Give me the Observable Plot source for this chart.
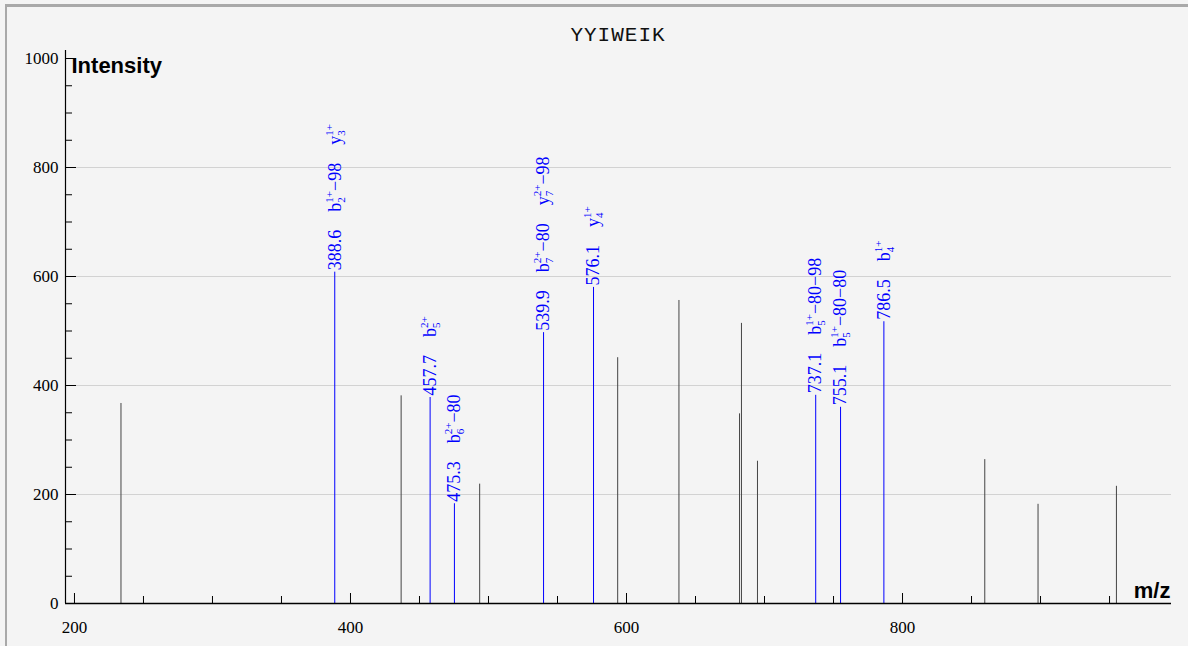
<!DOCTYPE html>
<html>
<head>
<meta charset="utf-8">
<script src="https://cdn.jsdelivr.net/npm/d3@7"></script>
<script src="https://cdn.jsdelivr.net/npm/@observablehq/plot@0.6"></script>
<style>
html,body{margin:0;padding:0;background:#f4f4f4;overflow:hidden;}
#page{position:relative;width:1188px;height:646px;background:#f4f4f4;overflow:hidden;}
#frame{position:absolute;left:5px;top:4px;width:1300px;height:800px;border-left:2px solid #a9a9a9;border-top:3px solid #a9a9a9;pointer-events:none;}
#title{position:absolute;left:65px;width:1106px;top:24px;height:24px;line-height:24px;text-align:center;font-family:"Liberation Mono",monospace;font-size:21px;letter-spacing:1px;color:#111;}
#chart{position:absolute;left:0;top:50px;}
</style>
</head>
<body>
<div id="page">
  <div id="frame"></div>
  <div id="title"></div>
  <div id="chart"></div>
</div>
<script>
// ---- data ----
const peptide = "YYIWEIK";

// unannotated peaks (gray)
const peakMz = [233.7, 436.7, 493.6, 593.6, 638.0, 681.9, 683.3, 694.9, 859.6, 898.2, 955.0];
const peakIntensity = [367, 381, 219, 451, 556, 348, 514, 261, 264, 182, 215];

// annotated peaks (blue)
const ionMz = [388.6, 457.7, 475.3, 539.9, 576.1, 737.1, 755.1, 786.5];
const ionIntensity = [608, 378, 183, 497, 580, 382, 360, 517];
const ionNames   = [["b","y"], ["b"], ["b"], ["b","y"], ["y"], ["b"], ["b"], ["b"]];
const ionSubs    = [["2","3"], ["5"], ["6"], ["7","7"], ["4"], ["5"], ["5"], ["4"]];
const ionCharges = [["1+","1+"], ["2+"], ["2+"], ["2+","2+"], ["1+"], ["1+"], ["1+"], ["1+"]];
const ionLosses  = [["−98",""], [""], ["−80"], ["−80","−98"], [""], ["−80−98"], ["−80−80"], [""]];

// axes
const xDomain = [193.5, 994.9];
const yDomain = [0, 1014.7];
const xMajor = [200, 400, 600, 800];
const xMinor = [250, 300, 350, 450, 500, 550, 650, 700, 750, 850, 900, 950];
const yMajor = [0, 200, 400, 600, 800, 1000];
const yMinor = [50, 100, 150, 250, 300, 350, 450, 500, 550, 650, 700, 750, 850, 900, 950];
const yGrid = [200, 400, 600, 800];
const yLabel = "Intensity";
const xLabel = "m/z";

// ---- tables ----
const peaks = peakMz.map((mz, i) => ({mz, intensity: peakIntensity[i]}));
const ions = ionMz.map((mz, i) => ({mz, intensity: ionIntensity[i]}));

document.getElementById("title").textContent = peptide;

const labelFont = "Liberation Serif";
const labelSize = 18;
const smallSize = 11;
const ionColor = "#0000ff";

const chart = Plot.plot({
  width: 1188,
  height: 596,
  marginLeft: 65,
  marginRight: 17,
  marginTop: 0,
  marginBottom: 43,
  style: {background: "transparent", fontFamily: "Liberation Serif", fontSize: "17px", color: "#000", overflow: "visible"},
  x: {domain: xDomain, label: null},
  y: {domain: yDomain, label: null},
  marks: [
    Plot.gridY(yGrid, {stroke: "#d2d2d2", strokeOpacity: 1}),
    Plot.ruleX(peaks, {x: "mz", y1: 0, y2: "intensity", stroke: "#444", strokeWidth: 1}),
    Plot.ruleX(ions, {x: "mz", y1: 0, y2: "intensity", stroke: ionColor, strokeWidth: 1}),
    Plot.text(ions, {
      x: "mz", y: "intensity", text: d => d.mz.toFixed(1),
      rotate: -90, textAnchor: "start", lineAnchor: "middle", dy: -2,
      fill: ionColor, fontSize: labelSize, fontFamily: labelFont
    }),
    // axis lines
    Plot.ruleY([0], {stroke: "#000", strokeWidth: 1.5}),
    Plot.ruleX([xDomain[0]], {stroke: "#000", strokeWidth: 1.2}),
    // x ticks (inward)
    Plot.axisX(xMajor, {tickSize: 10, dy: -10, tickFormat: () => "", label: null}),
    Plot.axisX(xMinor, {tickSize: 7, dy: -7, tickFormat: () => "", label: null}),
    Plot.axisX(xMajor, {tickSize: 0, tickPadding: 17, fontSize: 17, tickFormat: d => String(d), label: null}),
    // y ticks (inward)
    Plot.axisY(yMajor, {tickSize: 11, dx: 11, tickFormat: () => "", label: null}),
    Plot.axisY(yMinor, {tickSize: 7, dx: 7, tickFormat: () => "", label: null}),
    Plot.axisY(yMajor, {tickSize: 0, tickPadding: 7, fontSize: 17, tickFormat: d => String(d), label: null}),
    // axis titles
    Plot.text([yLabel], {frameAnchor: "top-left", dx: 6, dy: 7, textAnchor: "start", lineAnchor: "top",
      fontSize: 22, fontWeight: "bold", fontFamily: "Liberation Sans", fill: "#000"}),
    Plot.text([xLabel], {frameAnchor: "bottom-right", dx: -1, dy: -6, textAnchor: "end", lineAnchor: "bottom",
      fontSize: 22, fontWeight: "bold", fontFamily: "Liberation Sans", fill: "#000"})
  ]
});
document.getElementById("chart").appendChild(chart);

// remove empty tick-label texts used only for tick-only axes
chart.querySelectorAll("text").forEach(el => { if (el.textContent === "") el.remove(); });

// ---- ion annotations with stacked charge (superscript) / index (subscript) ----
const ctx = document.createElement("canvas").getContext("2d");
ctx.font = `${smallSize}px "${labelFont}"`;
const w = s => ctx.measureText(s).width;
const NS = "http://www.w3.org/2000/svg";
const gap = 18, supShift = 8, subShift = 4;
const mzStrings = ionMz.map(v => v.toFixed(1));
const labelTexts = Array.from(chart.querySelectorAll("text")).filter(el => {
  const g = el.closest("g[fill]");
  return g && g.getAttribute("fill") === ionColor && mzStrings.includes(el.textContent);
});
labelTexts.forEach(el => {
  const i = mzStrings.indexOf(el.textContent);
  const add = (str, attrs) => {
    const t = document.createElementNS(NS, "tspan");
    t.textContent = str;
    for (const k in attrs) t.setAttribute(k, attrs[k]);
    el.appendChild(t);
  };
  let pendingDy = 0;
  ionNames[i].forEach((name, j) => {
    const sup = ionCharges[i][j], sub = ionSubs[i][j], loss = ionLosses[i][j];
    const supW = w(sup), subW = w(sub);
    add(name, {dx: gap, dy: pendingDy});
    add(sup, {dy: -supShift, "font-size": smallSize});
    add(sub, {dx: -supW, dy: supShift + subShift, "font-size": smallSize});
    if (loss) {
      add(loss, {dx: Math.max(0, supW - subW), dy: -subShift});
      pendingDy = 0;
    } else {
      pendingDy = -subShift;
    }
  });
});
</script>
</body>
</html>
